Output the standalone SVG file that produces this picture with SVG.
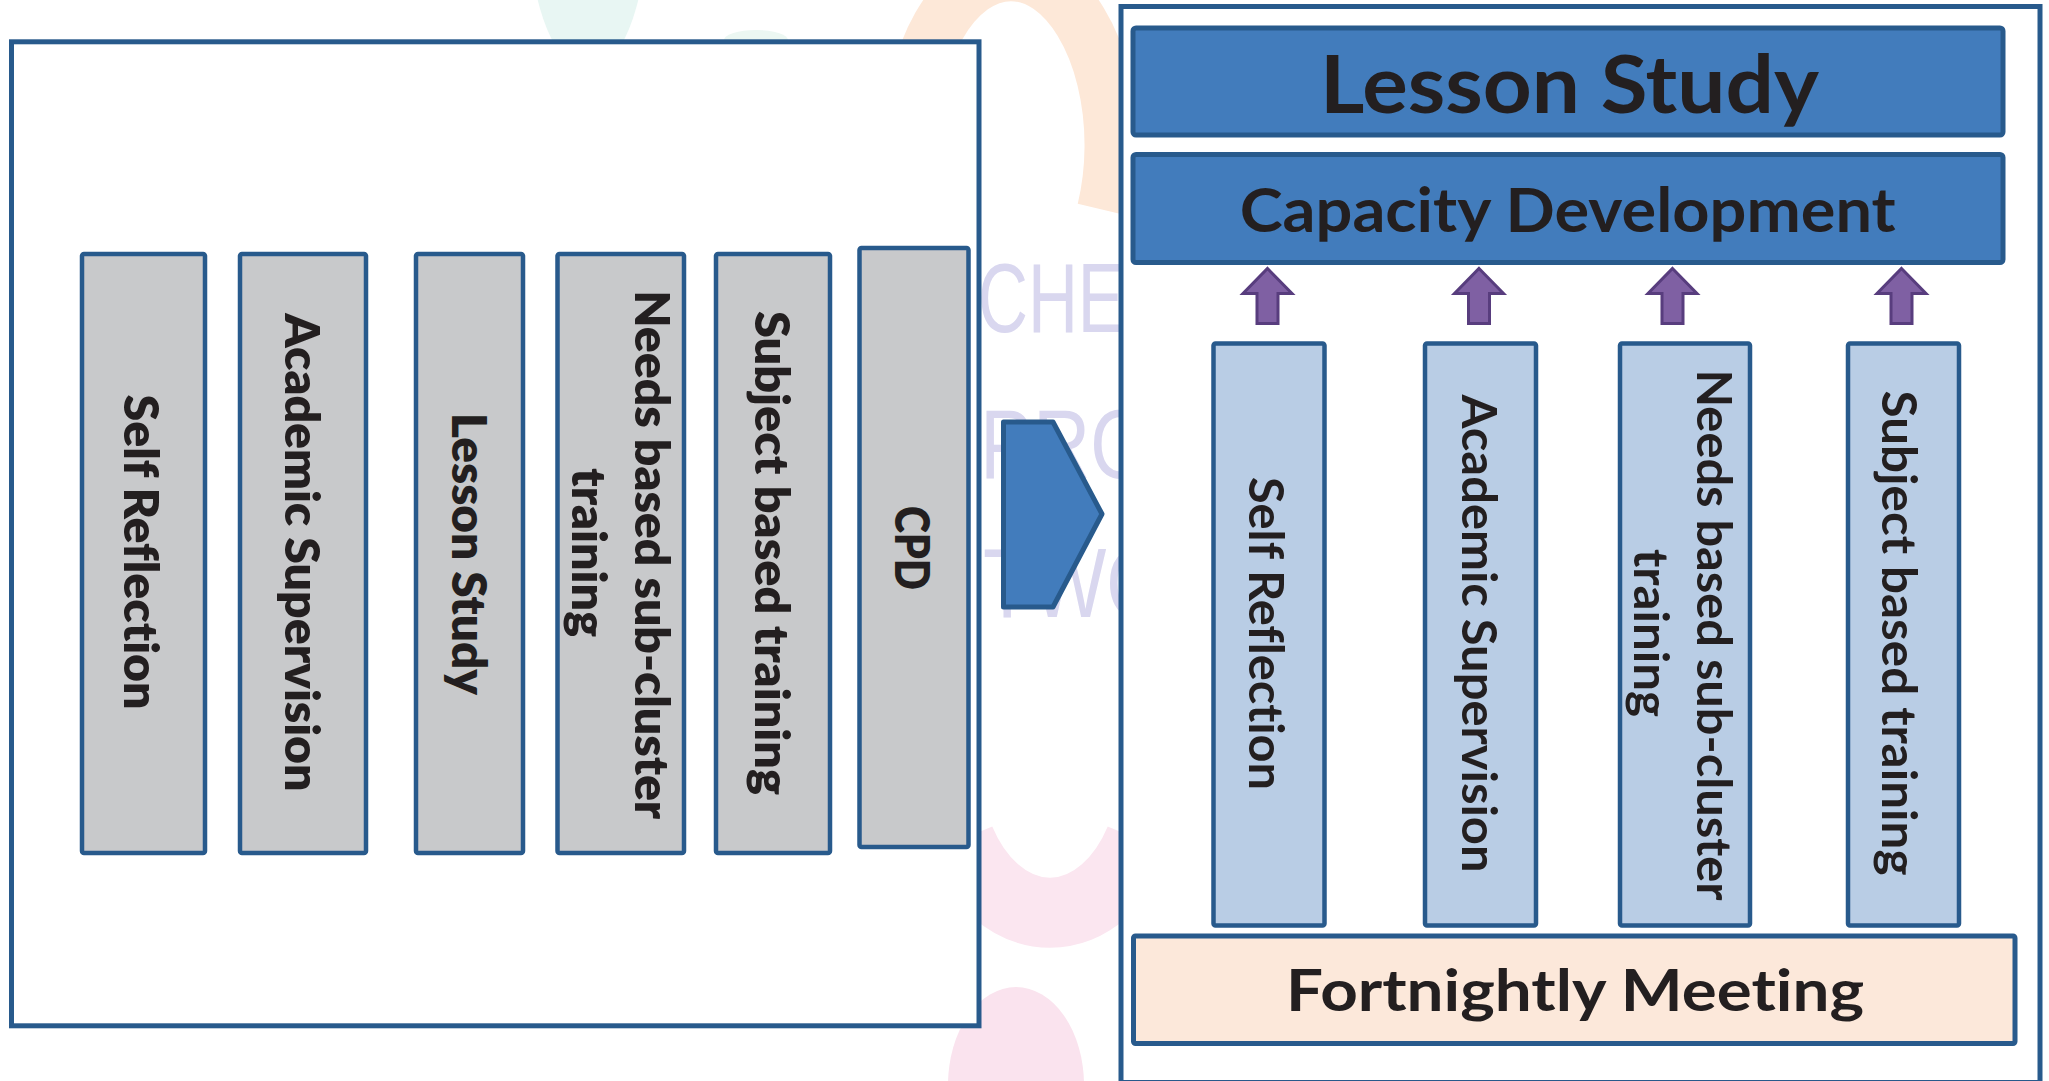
<svg xmlns="http://www.w3.org/2000/svg" width="2049" height="1081" viewBox="0 0 2049 1081">
  <style>
    .frame { fill: #ffffff; stroke: #285a8c; stroke-width: 5; }
    .grey  { fill: #c8c9cb; stroke: #285a8c; stroke-width: 4.5; }
    .pale  { fill: #b9cde5; stroke: #285a8c; stroke-width: 4.5; }
    .band  { fill: #427cbc; stroke: #285a8c; stroke-width: 5; }
    .base  { fill: #fce8da; stroke: #285a8c; stroke-width: 5; }
    .lbl   { font-family: Lato, "Open Sans", "Liberation Sans", sans-serif; font-weight: 700; fill: #231f20; text-anchor: middle; font-variant-ligatures: none; }
    .v     { font-size: 48px; }
    .heavy { font-weight: 800; }
    .up    { fill: #7f60a3; stroke: #583d7e; stroke-width: 3; stroke-linejoin: miter; }
    .chev  { fill: #427cbc; stroke: #285a8c; stroke-width: 5; stroke-linejoin: round; }
    .wm    { font-family: "Liberation Sans", Arial, sans-serif; font-size: 98px; fill: #d9d7ef; }
  </style>
  <defs>
    <!-- block arrow pointing up, tip at (0,0) -->
    <path id="upArrow" d="M0 0 L24.5 25 L10.5 25 L10.5 55 L-10.5 55 L-10.5 25 L-24.5 25 Z"/>
  </defs>

  <rect width="2049" height="1081" fill="#ffffff"/>

  <!-- faint logo watermark behind the panels -->
  <g id="watermark">
    <ellipse cx="588" cy="-70" rx="58" ry="140" fill="#e8f6f3"/>
    <ellipse cx="756" cy="40" rx="32" ry="10" fill="#ecf7f2"/>
    <path d="M918 80 A100 170 0 0 1 1104 210" fill="none" stroke="#fde8d8" stroke-width="54"/>
    <path d="M960 840 A105 150 0 0 0 1140 840" fill="none" stroke="#fbe6f0" stroke-width="70"/>
    <ellipse cx="1016" cy="1085" rx="68" ry="98" fill="#fae3ee"/>
    <text class="wm" x="978" y="332" textLength="146" lengthAdjust="spacingAndGlyphs">CHE</text>
    <text class="wm" x="980" y="478" textLength="172" lengthAdjust="spacingAndGlyphs">PRO</text>
    <text class="wm" x="983" y="617" textLength="185" lengthAdjust="spacingAndGlyphs">TWO</text>
  </g>

  <!-- left panel: separate activities -->
  <g id="left-panel">
    <rect class="frame" x="11.5" y="41.8" width="967.5" height="984"/>
  </g>
  <g id="node-self-reflection-a">
    <rect class="grey" x="82" y="254" width="123" height="599" rx="2"/>
    <text class="lbl v heavy" transform="translate(124 552) rotate(90)" textLength="315" lengthAdjust="spacingAndGlyphs">Self Reflection</text>
  </g>
  <g id="node-academic-supervision-a">
    <rect class="grey" x="240" y="254" width="126" height="599" rx="2"/>
    <text class="lbl v heavy" transform="translate(285 552.5) rotate(90)" textLength="478" lengthAdjust="spacingAndGlyphs">Academic Supervision</text>
  </g>
  <g id="node-lesson-study-a">
    <rect class="grey" x="416" y="254" width="107" height="599" rx="2"/>
    <text class="lbl v heavy" transform="translate(451.5 554) rotate(90)" textLength="282" lengthAdjust="spacingAndGlyphs">Lesson Study</text>
  </g>
  <g id="node-needs-based-a">
    <rect class="grey" x="557.5" y="254" width="126.5" height="599" rx="2"/>
    <text class="lbl v heavy" transform="translate(635 554.7) rotate(90)" textLength="529" lengthAdjust="spacingAndGlyphs">Needs based sub-cluster</text>
    <text class="lbl v heavy" transform="translate(572 552.6) rotate(90)" textLength="169" lengthAdjust="spacingAndGlyphs">training</text>
  </g>
  <g id="node-subject-based-a">
    <rect class="grey" x="716" y="254" width="114" height="599" rx="2"/>
    <text class="lbl v heavy" transform="translate(755 553) rotate(90)" textLength="484" lengthAdjust="spacingAndGlyphs">Subject based training</text>
  </g>
  <g id="node-cpd">
    <rect class="grey" x="859.5" y="248" width="109" height="599" rx="2"/>
    <text class="lbl v heavy" transform="translate(895 548) rotate(90)" textLength="84" lengthAdjust="spacingAndGlyphs">CPD</text>
  </g>

  <!-- right panel: integrated lesson study model -->
  <g id="right-panel">
    <rect class="frame" x="1121" y="6.5" width="919" height="1076"/>
  </g>
  <g id="node-lesson-study">
    <rect class="band" x="1133" y="28" width="870" height="107" rx="3"/>
    <text class="lbl" x="1569.5" y="113" font-size="81" textLength="499" lengthAdjust="spacingAndGlyphs">Lesson Study</text>
  </g>
  <g id="node-capacity-development">
    <rect class="band" x="1133" y="154.5" width="870" height="108" rx="3"/>
    <text class="lbl" x="1567.7" y="232" font-size="61" textLength="656" lengthAdjust="spacingAndGlyphs">Capacity Development</text>
  </g>
  <g id="node-self-reflection-b">
    <rect class="pale" x="1213.5" y="343.5" width="111" height="582" rx="2"/>
    <text class="lbl v" transform="translate(1249 633.5) rotate(90)" textLength="313" lengthAdjust="spacingAndGlyphs">Self Reflection</text>
  </g>
  <g id="node-academic-supervision-b">
    <rect class="pale" x="1425" y="343.5" width="111" height="582" rx="2"/>
    <text class="lbl v" transform="translate(1462 633.5) rotate(90)" textLength="478" lengthAdjust="spacingAndGlyphs">Academic Supervision</text>
  </g>
  <g id="node-needs-based-b">
    <rect class="pale" x="1620" y="343.5" width="130" height="582" rx="2"/>
    <text class="lbl v" transform="translate(1697 635) rotate(90)" textLength="531" lengthAdjust="spacingAndGlyphs">Needs based sub-cluster</text>
    <text class="lbl v" transform="translate(1634 633) rotate(90)" textLength="168" lengthAdjust="spacingAndGlyphs">training</text>
  </g>
  <g id="node-subject-based-b">
    <rect class="pale" x="1848" y="343.5" width="111" height="582" rx="2"/>
    <text class="lbl v" transform="translate(1882 633) rotate(90)" textLength="485" lengthAdjust="spacingAndGlyphs">Subject based training</text>
  </g>
  <g id="node-fortnightly-meeting">
    <rect class="base" x="1133.5" y="936" width="881.5" height="107.5" rx="2"/>
    <text class="lbl" x="1575" y="1011" font-size="58" textLength="578" lengthAdjust="spacingAndGlyphs">Fortnightly Meeting</text>
  </g>

  <!-- connectors: panel transition chevron and upward arrows -->
  <g id="connectors">
    <polygon class="chev" points="1003.5,422 1053,422 1102,514 1053,607 1003.5,607"/>
    <use href="#upArrow" class="up" x="1267.5" y="268.5"/>
    <use href="#upArrow" class="up" x="1479" y="268.5"/>
    <use href="#upArrow" class="up" x="1672.5" y="268.5"/>
    <use href="#upArrow" class="up" x="1901.5" y="268.5"/>
  </g>
</svg>
